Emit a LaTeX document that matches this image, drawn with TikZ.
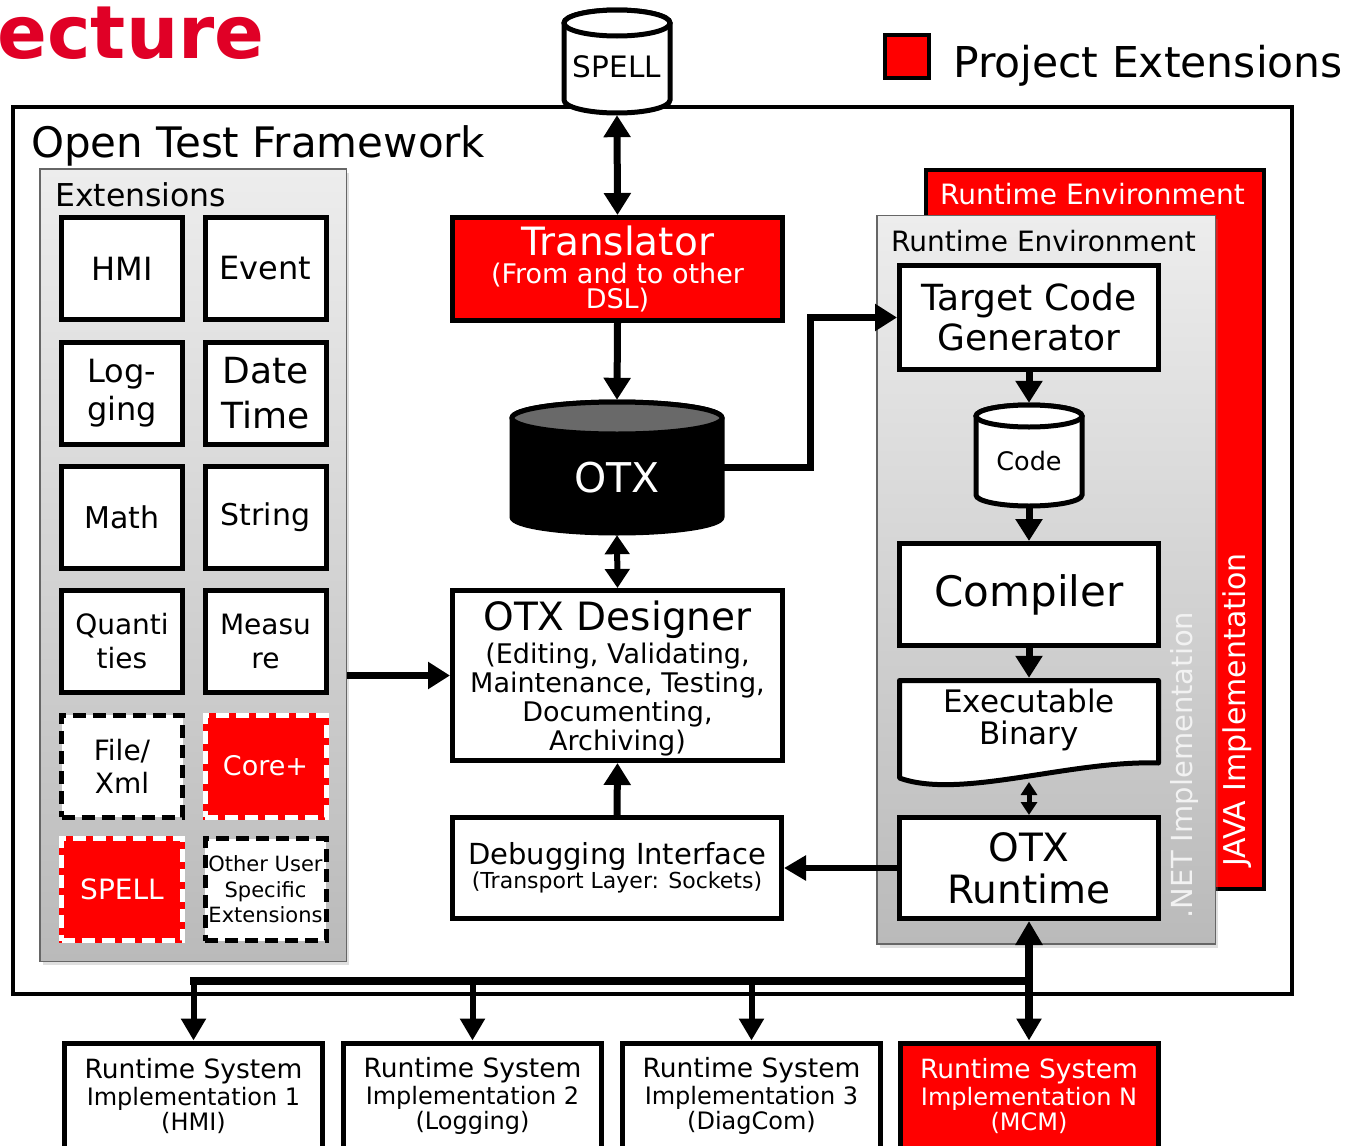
\documentclass[tikz,border=0pt]{standalone}
\usepackage{fontspec}
\setmainfont{DejaVu Sans}
\usetikzlibrary{arrows.meta,shadows}

\definecolor{extred}{RGB}{255,0,0}
\definecolor{titlered}{RGB}{224,0,38}
\definecolor{panelTop}{RGB}{237,237,237}
\definecolor{panelBot}{RGB}{186,186,186}
\definecolor{otxtop}{RGB}{105,105,105}
\definecolor{netgray}{RGB}{242,242,242}

% font size / baseline skip, both in pt
\newcommand{\fz}[2]{\fontsize{#1pt}{#2pt}\selectfont}

% cylinder: x1 y1 x2 y2 ry body-fill top-fill line-width
\newcommand{\drawcyl}[8]{%
  \path[draw=black,line width=#8,fill=#6]
    ({#1},{#2+#5}) -- ({#1},{#4-#5})
    arc[start angle=180,end angle=0,x radius={(#3-#1)/2},y radius=#5]
    -- ({#3},{#2+#5})
    arc[start angle=0,end angle=-180,x radius={(#3-#1)/2},y radius=#5]
    -- cycle;
  \path[draw=black,line width=#8,fill=#7]
    ({(#1+#3)/2},{#2+#5}) ellipse[x radius={(#3-#1)/2},y radius=#5];
}

\begin{document}
\begin{tikzpicture}[x=1pt,y=-1pt,
  box/.style={draw=black,line width=5pt,fill=white,align=center,inner sep=0pt,text=black},
  redbox/.style={box,fill=extred,text=white},
  extbox/.style={box,minimum width=121pt,minimum height=102pt},
  dashbox/.style={extbox,dash pattern=on 13pt off 7pt},
  reddash/.style={extbox,fill=extred,draw=white,text=white,
    dash pattern=on 13pt off 7pt,preaction={draw=extred,solid}},
  colbox/.style={box,minimum width=259pt},
  rsbox/.style={box,minimum width=258pt,minimum height=106pt,font=\fz{24}{25}},
  panel/.style={draw=black!60,line width=1.5pt,top color=panelTop,
    bottom color=panelBot,inner sep=0pt,
    drop shadow={shadow xshift=3pt,shadow yshift=-4pt,opacity=0.25}},
  plain/.style={inner sep=0pt},
  arr/.style={line width=7pt,-{Triangle[length=22pt,width=26pt]}},
  dbl/.style={line width=7pt,{Triangle[length=22pt,width=26pt]}-{Triangle[length=22pt,width=26pt]}},
  dblshort/.style={line width=6pt,{Triangle[length=19pt,width=24pt]}-{Triangle[length=19pt,width=24pt]}},
  dblsm/.style={line width=5pt,{Triangle[length=13pt,width=16pt]}-{Triangle[length=13pt,width=16pt]}},
  arrbus/.style={line width=6pt,-{Triangle[length=22pt,width=24pt]}},
  dblbus/.style={line width=8pt,{Triangle[length=24pt,width=26pt]}-{Triangle[length=22pt,width=24pt]}},
]
\useasboundingbox[fill=white] (0,0) rectangle (1350,1146);

% heading and legend
\node (title) [anchor=base east,text=titlered,font=\bfseries\fz{73.5}{80}] at (268,58) {ecture};
\node (legsq) [draw=black,line width=4pt,fill=extred,minimum width=44pt,minimum height=43pt,inner sep=0pt] at (907,56.5) {};
\node (legtxt) [anchor=base west,font=\fz{42.5}{48},inner sep=0pt] at (953,77) {Project Extensions};

% framework frame
\node (otf) [draw=black,line width=4pt,minimum width=1279pt,minimum height=887pt,inner sep=0pt] at (652.5,550.5) {};
\node (otflbl) [anchor=base west,font=\fz{42}{48},inner sep=0pt] at (31,157) {Open Test Framework};

% SPELL store on top
\drawcyl{564}{10}{670}{113}{13}{white}{white}{5pt}
\node (spelldb) [plain,minimum width=110pt,minimum height=107pt] at (617,61.5) {};
\node (spelltxt) [font=\fz{29.5}{34},inner sep=0pt] at (617,67) {SPELL};

% extensions panel
\node (extpanel) [panel,minimum width=306.5pt,minimum height=792.5pt] at (193,565) {};
\node (extlbl) [anchor=base west,font=\fz{31.5}{36},inner sep=0pt] at (55,206) {Extensions};

\node (hmi) [extbox,font=\fz{32}{38}] at (122,268.5) {HMI};
\node (event) [extbox,font=\fz{32}{38}] at (265.5,268.5) {Event};
\node (logging) [extbox,font=\fz{32}{38}] at (122,393) {Log-\\ging};
\node (datetime) [extbox,font=\fz{36}{45}] at (265.5,393) {Date\\Time};
\node (math) [extbox,font=\fz{30}{36}] at (122,517.5) {Math};
\node (string) [extbox,font=\fz{30}{36}] at (265.5,517.5) {String};
\node (quant) [extbox,font=\fz{28}{34}] at (122,641.5) {Quanti\\ties};
\node (measure) [extbox,font=\fz{28}{34}] at (265.5,641.5) {Measu\\re};
\node (filexml) [dashbox,font=\fz{28}{33}] at (122,766) {File/\\Xml};
\node (coreplus) [reddash,font=\fz{27}{33}] at (265.5,766) {Core+};
\node (spellext) [reddash,font=\fz{28}{33}] at (122,889.5) {SPELL};
\node (otherext) [dashbox,font=\fz{21}{25.5}] at (265.5,889.5) {Other User\\Specific\\Extensions};

% central column
\node (trans) [redbox,minimum width=330pt,minimum height=103pt,font=\fz{27}{25}] at (617.5,269)
  {{\fz{39}{44}Translator}\\[3pt](From and to other\\DSL)};

\drawcyl{512}{402}{722}{533}{16}{black}{otxtop}{5pt}
\node (otx) [plain,minimum width=214pt,minimum height=135pt] at (617,467.5) {};
\node (otxtxt) [text=white,font=\fz{41}{46},inner sep=0pt] at (617,478) {OTX};

\node (designer) [box,minimum width=330pt,minimum height=170pt,font=\fz{27}{29}] at (617.5,675.5)
  {{\fz{39}{44}\rule{0pt}{36pt}OTX Designer}\\[4pt](Editing, Validating,\\Maintenance, Testing,\\Documenting,\\Archiving)};

\node (debug) [box,minimum width=329pt,minimum height=101pt,font=\fz{22}{22}] at (617,868)
  {{\fz{29}{33}Debugging Interface}\\(Transport Layer: Sockets)};

% runtime environments
\node (javapanel) [draw=black,line width=4pt,fill=extred,minimum width=338pt,minimum height=719pt,inner sep=0pt] at (1095,529.5) {};
\node (javalbl) [anchor=base west,text=white,font=\fz{28}{32},inner sep=0pt] at (940,204) {Runtime Environment};
\node (javaimpl) [rotate=90,text=white,font=\fz{30}{34},inner sep=0pt] at (1237,710) {JAVA Implementation};

\node (netpanel) [panel,minimum width=338.5pt,minimum height=728.5pt] at (1046,579.5) {};
\node (netlbl) [anchor=base west,font=\fz{28}{32},inner sep=0pt] at (891,251) {Runtime Environment};
\node (netimpl) [rotate=90,text=netgray,font=\fz{29}{33},inner sep=0pt] at (1184,765) {.NET Implementation};

\node (tcg) [colbox,minimum height=104pt,font=\fz{36}{40}] at (1029,317.5) {Target Code\\Generator};

\drawcyl{976}{405}{1082}{506}{11}{white}{white}{5pt}
\node (code) [plain,minimum width=110pt,minimum height=105pt] at (1029,455.5) {};
\node (codetxt) [font=\fz{25.5}{30},inner sep=0pt] at (1029,461) {Code};

\node (compiler) [colbox,minimum height=102pt,font=\fz{42}{48}] at (1029,594.5) {Compiler};

% executable binary as a document sheet with a wavy lower edge
\path[draw=black,line width=5pt,fill=white,line join=round]
  (899.5,680.5) -- (1158.5,680.5) -- (1158.5,763)
  .. controls (1070,760) and (960,800) .. (899.5,778) -- cycle;
\node (exec) [plain,align=center,minimum width=264pt,minimum height=84pt,font=\fz{31}{32}] at (1029,720) {Executable\\Binary};
\coordinate (execbot) at (1029,782);

\node (otxrt) [colbox,minimum height=101pt,font=\fz{39}{42}] at (1029,868) {OTX\\Runtime};

% runtime system implementations
\node (rs1) [rsbox] at (193.5,1096) {{\fz{26.5}{28}Runtime System}\\[2pt]Implementation 1\\(HMI)};
\node (rs2) [rsbox] at (472.5,1096) {{\fz{26.5}{28}Runtime System}\\[2pt]Implementation 2\\(Logging)};
\node (rs3) [rsbox] at (751.5,1096) {{\fz{26.5}{28}Runtime System}\\[2pt]Implementation 3\\(DiagCom)};
\node (rsN) [rsbox,fill=extred,text=white] at (1029,1096) {{\fz{26.5}{28}Runtime System}\\[2pt]Implementation N\\(MCM)};

% connectors
\draw[dbl] (spelldb.south) -- (trans.north);
\draw[arr] (trans.south) -- (otx.north);
\draw[dblshort] (otx.south) -- (designer.north);
\coordinate (elbow) at (810,467.5);
\draw[arr,line join=miter] (otx.east) -- (elbow) |- (tcg.west);
\draw[arr] (extpanel.east |- designer.west) -- (designer.west);
\draw[arr] (debug.north) -- (designer.south);
\draw[line width=6pt,-{Triangle[length=22pt,width=24pt]}] (otxrt.west) -- (debug.east);
\draw[arr] (tcg.south) -- (code.north);
\draw[arr] (code.south) -- (compiler.north);
\draw[arr] (compiler.south) -- (exec.north);
\draw[dblsm] (execbot) -- (otxrt.north);

% distribution bus
\coordinate (busL) at (193.5,981);
\coordinate (busR) at (1029,981);
\draw[dblbus] (otxrt.south) -- (rsN.north);
\draw[line width=8pt,line cap=rect] (busL) -- (busR);
\draw[arrbus] (busL) -- (rs1.north);
\draw[arrbus] (rs2.north |- busL) -- (rs2.north);
\draw[arrbus] (rs3.north |- busL) -- (rs3.north);
\end{tikzpicture}
\end{document}
